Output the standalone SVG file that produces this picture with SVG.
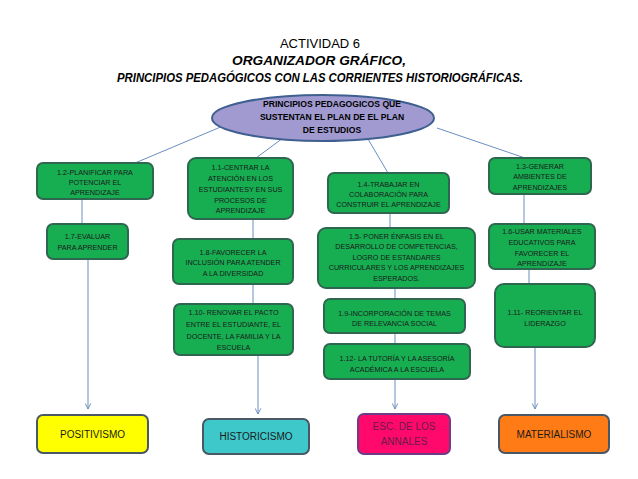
<svg xmlns="http://www.w3.org/2000/svg" width="638" height="479" viewBox="0 0 638 479">
<defs>
<style>
.t{font-family:"Liberation Sans",Arial,sans-serif;fill:#000}
.n{font-family:"Liberation Sans",Arial,sans-serif;font-size:7.2px;fill:#1a1a1a;text-anchor:middle}
.g{fill:#17ae52;stroke:#2f6650;stroke-width:2}
.c{stroke:#6a8fc0;stroke-width:1;fill:none}
.b{stroke:#4a5866;stroke-width:2}
.lb{font-family:"Liberation Sans",Arial,sans-serif;font-size:10px;text-anchor:middle;fill:#1a1a1a}
</style>
<marker id="ar" viewBox="0 0 10 10" refX="9" refY="5" markerWidth="7" markerHeight="7" orient="auto" markerUnits="userSpaceOnUse">
<path d="M1,1 L9,5 L1,9" fill="none" stroke="#6a8fc0" stroke-width="1.4"/>
</marker>
</defs>
<rect width="638" height="479" fill="#fff"/>
<g id="title">
<text class="t" x="320" y="48" font-size="13" text-anchor="middle">ACTIVIDAD 6</text>
<text class="t" x="319" y="65" font-size="13" font-weight="bold" font-style="italic" text-anchor="middle" textLength="174" lengthAdjust="spacingAndGlyphs">ORGANIZADOR GRÁFICO,</text>
<text class="t" x="320" y="82" font-size="13" font-weight="bold" font-style="italic" text-anchor="middle" textLength="406" lengthAdjust="spacingAndGlyphs">PRINCIPIOS PEDAGÓGICOS CON LAS CORRIENTES HISTORIOGRÁFICAS.</text>
</g>
<g id="connectors">
<line class="c" x1="223" y1="126" x2="135" y2="163"/>
<line class="c" x1="283" y1="138" x2="256" y2="158"/>
<line class="c" x1="368" y1="139" x2="388" y2="173"/>
<line class="c" x1="437" y1="128" x2="525" y2="158"/>
<line class="c" x1="82" y1="199" x2="82" y2="224"/>
<line class="c" x1="88" y1="259" x2="88" y2="409" marker-end="url(#ar)"/>
<line class="c" x1="253" y1="219" x2="253" y2="239"/>
<line class="c" x1="253" y1="284" x2="253" y2="304"/>
<line class="c" x1="258" y1="355" x2="258" y2="414" marker-end="url(#ar)"/>
<line class="c" x1="390" y1="213" x2="390" y2="228"/>
<line class="c" x1="395" y1="288" x2="395" y2="299"/>
<line class="c" x1="395" y1="333" x2="395" y2="344"/>
<line class="c" x1="395" y1="379" x2="395" y2="409" marker-end="url(#ar)"/>
<line class="c" x1="524" y1="194" x2="524" y2="224"/>
<line class="c" x1="529" y1="269" x2="529" y2="284"/>
<line class="c" x1="535" y1="347" x2="535" y2="409" marker-end="url(#ar)"/>
</g>
<g id="root">
<ellipse cx="323" cy="118" rx="111" ry="23" fill="#a09ad0" stroke="#3f5f90" stroke-width="2"/>
<text class="t" font-size="8.6" font-weight="bold" text-anchor="middle"><tspan x="332" y="107">PRINCIPIOS PEDAGOGICOS QUE</tspan><tspan x="332" y="120">SUSTENTAN EL PLAN DE EL PLAN</tspan><tspan x="332" y="133">DE ESTUDIOS</tspan></text>
</g>
<g id="n12">
<rect class="g" x="37" y="163" width="116" height="36" rx="6"/>
<text class="n"><tspan x="95" y="175">1.2-PLANIFICAR PARA</tspan><tspan x="95" y="185">POTENCIAR EL</tspan><tspan x="95" y="195">APRENDIZAJE</tspan></text>
</g>
<g id="n17">
<rect class="g" x="47" y="224" width="81" height="35" rx="6"/>
<text class="n"><tspan x="87.5" y="238.5">1.7-EVALUAR</tspan><tspan x="87.5" y="249.5">PARA APRENDER</tspan></text>
</g>
<g id="n11">
<rect class="g" x="188" y="158" width="105" height="61" rx="8"/>
<text class="n"><tspan x="240.5" y="169.5">1.1-CENTRAR LA</tspan><tspan x="240.5" y="180.5">ATENCIÓN EN LOS</tspan><tspan x="240.5" y="191.5">ESTUDIANTESY EN SUS</tspan><tspan x="240.5" y="202.5">PROCESOS DE</tspan><tspan x="240.5" y="213">APRENDIZAJE</tspan></text>
</g>
<g id="n18">
<rect class="g" x="173" y="239" width="120" height="45" rx="6"/>
<text class="n"><tspan x="233" y="254.5">1.8-FAVORECER LA</tspan><tspan x="233" y="264.5">INCLUSIÓN PARA ATENDER</tspan><tspan x="233" y="275.5">A LA DIVERSIDAD</tspan></text>
</g>
<g id="n110">
<rect class="g" x="174" y="304" width="119" height="51" rx="6"/>
<text class="n"><tspan x="233.5" y="314.5">1.10- RENOVAR EL PACTO</tspan><tspan x="233.5" y="326.5">ENTRE EL ESTUDIANTE, EL</tspan><tspan x="233.5" y="338.5">DOCENTE, LA FAMILIA Y LA</tspan><tspan x="233.5" y="349.5">ESCUELA</tspan></text>
</g>
<g id="n14">
<rect class="g" x="328" y="173" width="121" height="40" rx="6"/>
<text class="n"><tspan x="388.5" y="186.5">1.4-TRABAJAR EN</tspan><tspan x="388.5" y="196.5">COLABORACIÓN PARA</tspan><tspan x="388.5" y="206.5">CONSTRUIR EL APRENDIZAJE</tspan></text>
</g>
<g id="n15">
<rect class="g" x="318" y="228" width="157" height="60" rx="8"/>
<text class="n"><tspan x="396.5" y="238.5">1.5- PONER ÉNFASIS EN EL</tspan><tspan x="396.5" y="248.5">DESARROLLO DE COMPETENCIAS,</tspan><tspan x="396.5" y="259.5">LOGRO DE ESTANDARES</tspan><tspan x="396.5" y="269.5">CURRICULARES Y LOS APRENDIZAJES</tspan><tspan x="396.5" y="280.5">ESPERADOS.</tspan></text>
</g>
<g id="n19">
<rect class="g" x="324" y="299" width="141" height="34" rx="6"/>
<text class="n"><tspan x="394.5" y="315.5">1.9-INCORPORACIÓN DE TEMAS</tspan><tspan x="394.5" y="325.5">DE RELEVANCIA SOCIAL</tspan></text>
</g>
<g id="n112">
<rect class="g" x="324" y="344" width="146" height="35" rx="6"/>
<text class="n"><tspan x="397" y="360.5">1.12- LA TUTORÍA Y LA ASESORÍA</tspan><tspan x="397" y="371.5">ACADÉMICA A LA ESCUELA</tspan></text>
</g>
<g id="n13">
<rect class="g" x="489" y="158" width="102" height="36" rx="6"/>
<text class="n"><tspan x="540" y="168.5">1.3-GENERAR</tspan><tspan x="540" y="178.5">AMBIENTES DE</tspan><tspan x="540" y="189.5">APRENDIZAJES</tspan></text>
</g>
<g id="n16">
<rect class="g" x="489" y="224" width="106" height="45" rx="6"/>
<text class="n"><tspan x="542" y="233.5">1.6-USAR MATERIALES</tspan><tspan x="542" y="244.5">EDUCATIVOS PARA</tspan><tspan x="542" y="255.5">FAVORECER EL</tspan><tspan x="542" y="265.5">APRENDIZAJE</tspan></text>
</g>
<g id="n111">
<rect class="g" x="495" y="284" width="100" height="63" rx="9"/>
<text class="n"><tspan x="545" y="314.5">1.11- REORIENTAR EL</tspan><tspan x="545" y="325.5">LIDERAZGO</tspan></text>
</g>
<g id="positivismo">
<rect class="b" x="37" y="415" width="111" height="38" rx="6" fill="#ffff00"/>
<text class="lb" x="92.5" y="437.5">POSITIVISMO</text>
</g>
<g id="historicismo">
<rect class="b" x="203" y="419" width="106" height="35" rx="6" fill="#3ec8ca"/>
<text class="lb" x="256" y="440">HISTORICISMO</text>
</g>
<g id="annales">
<rect x="358" y="414" width="92" height="40" rx="6" fill="#ff0a6c" stroke="#6e3c86" stroke-width="2"/>
<text class="lb" style="fill:#6a1a48"><tspan x="404" y="430">ESC. DE LOS</tspan><tspan x="404" y="445">ANNALES</tspan></text>
</g>
<g id="materialismo">
<rect class="b" x="499" y="415" width="110" height="38" rx="6" fill="#ff7b15"/>
<text class="lb" x="554" y="437.5">MATERIALISMO</text>
</g>
</svg>
